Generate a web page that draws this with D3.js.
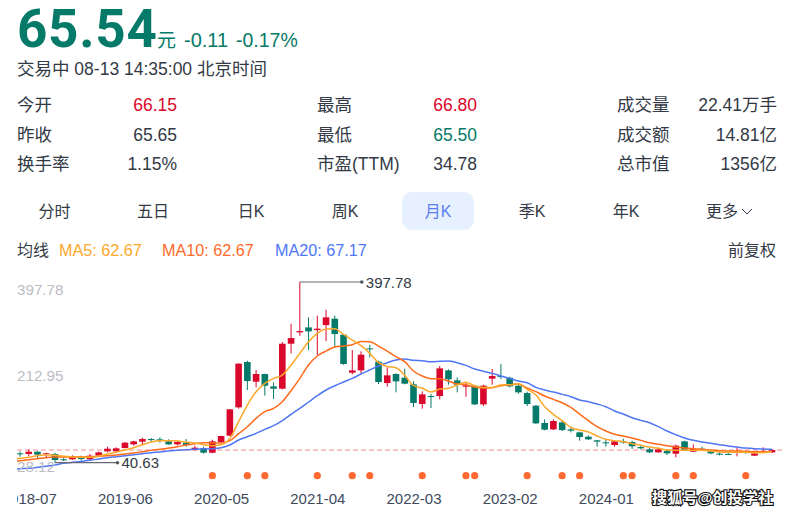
<!DOCTYPE html>
<html>
<head>
<meta charset="utf-8">
<script src="https://cdn.jsdelivr.net/npm/d3@7/dist/d3.min.js"></script>
<style>
  html, body { margin: 0; padding: 0; background: #fff; }
  svg { display: block; }
  text { font-family: "Liberation Sans", "Noto Sans CJK SC", sans-serif; }
</style>
</head>
<body>
<div id="chart"></div>
<script>
// monthly candles, the first month sits behind the left clip edge
const FIRST_MONTH = new Date(Date.UTC(2018, 4, 1));
const MONTH_COUNT = 88;
const TICK_LABELS = ['2018-07', '2019-06', '2020-05', '2021-04', '2022-03', '2023-02', '2024-01'];
const MARKER_MONTHS = ['2020-04', '2020-08', '2020-10', '2021-04', '2021-08', '2021-10', '2022-04', '2022-09', '2022-10',
  '2023-04', '2023-08', '2023-10', '2024-03', '2024-04', '2024-09', '2024-11', '2025-05'];

const opens = [57, 59.1, 57.8, 62.4, 57.1, 57.8, 47.3, 47.3, 52.5, 47.3, 54.5, 63.1, 63.1, 69.6, 76.9, 82.2, 87.4, 86.8, 82.8, 76.9, 80.2,
  67.7, 69.6, 60.4, 81.5, 94.0, 150.0, 239.6, 200.7, 215.9, 191.5, 186.9, 275.8, 298.2, 308.1, 302.8, 312.7, 325.2, 293.6, 218.5, 223.1,
  266.6, 240.3, 198.1, 215.9, 208.6, 195.5, 156.6, 172.4, 172.4, 223.1, 203.4, 190.9, 192.8, 155.9, 206.7, 211.9, 208.6, 192.8, 178.3,
  153.3, 119.1, 106.5, 120.4, 106.5, 100.6, 92.0, 84.8, 80.9, 75.6, 82.8, 81.5, 71.6, 67.0, 61.1, 63.7, 58.4, 82.8, 62.4, 68.3, 63.1,
  58.4, 57.8, 59.8, 61.8, 54.5, 61.8, 61.1];
const closes = [58, 57.1, 62.4, 56.5, 59.1, 45.9, 45.3, 53.8, 48.0, 54.5, 61.1, 68.3, 69.0, 80.2, 82.8, 87.4, 85.5, 84.1, 76.9, 81.5, 75.6,
  70.3, 60.4, 82.8, 93.4, 146.1, 236.3, 202.0, 215.9, 192.8, 186.9, 275.8, 287.0, 300.8, 300.2, 305.5, 327.9, 294.9, 235.6, 223.1, 254.1,
  264.6, 200.1, 213.3, 201.4, 196.8, 158.6, 175.7, 170.4, 227.1, 205.4, 194.8, 193.5, 155.9, 192.8, 211.9, 210.0, 191.5, 179.7, 156.6,
  118.4, 105.9, 123.0, 105.2, 103.9, 91.4, 86.8, 82.2, 78.9, 82.8, 81.5, 73.0, 69.0, 61.1, 67.0, 59.1, 74.3, 65.7, 67.7, 66.4, 59.1,
  56.5, 56.5, 62.4, 60.4, 59.1, 63.7, 65.5];
const highs = [60, 63.1, 67.0, 63.1, 60.4, 60.4, 50.6, 55.2, 54.5, 57.8, 62.4, 72.3, 71.0, 81.5, 84.1, 90.1, 89.4, 90.7, 86.8, 84.1, 87.4,
  74.3, 72.3, 86.1, 94.0, 146.7, 237.6, 242.2, 223.8, 216.5, 199.4, 279.1, 315.3, 397.78, 327.9, 331.2, 343.0, 331.2, 293.6, 263.3, 260.7,
  273.2, 242.2, 229.1, 217.2, 226.4, 201.4, 181.6, 176.4, 231.7, 225.1, 209.3, 199.4, 194.2, 194.8, 225.8, 235.6, 210.6, 197.4, 181.0,
  154.6, 126.3, 126.3, 125.0, 111.1, 101.9, 94.7, 85.5, 86.1, 85.5, 88.1, 84.1, 76.2, 70.3, 70.3, 67.7, 76.2, 84.1, 76.9, 72.3, 65.7,
  62.4, 63.1, 71.0, 63.7, 63.7, 71.0, 67.7];
const lows = [55, 52.5, 53.8, 48.0, 51.2, 40.63, 44.0, 46.6, 45.3, 45.9, 53.8, 61.1, 60.4, 69.0, 74.3, 74.9, 82.2, 80.2, 75.6, 74.9, 72.3,
  64.4, 58.4, 59.1, 80.2, 93.4, 147.4, 184.3, 189.5, 173.1, 166.5, 185.6, 256.7, 291.6, 263.3, 253.4, 281.1, 268.6, 234.3, 215.2, 217.2,
  248.8, 196.1, 190.9, 179.7, 195.5, 150.7, 147.4, 148.7, 165.8, 194.8, 179.7, 171.1, 154.6, 152.6, 194.8, 206.0, 189.5, 177.0, 152.6,
  117.1, 104.6, 105.2, 103.2, 100.6, 84.1, 85.5, 72.3, 72.3, 72.3, 78.2, 67.7, 67.0, 59.8, 60.4, 55.8, 51.2, 64.4, 61.8, 63.7, 57.1,
  55.2, 55.8, 53.2, 58.4, 53.8, 60.4, 59.8];

const ma5 = [47, 49.2, 51.2, 54.5, 56.5, 55.2, 53.2, 51.9, 51.2, 51.2, 53.8, 57.8, 61.8, 65.7, 70.3, 76.2, 81.5, 84.1, 84.1, 83.5, 81.5,
  79.5, 76.2, 74.3, 76.2, 88.7, 121.7, 154.6, 181.0, 197.4, 207.3, 213.9, 233.7, 256.7, 279.8, 296.2, 304.8, 305.5, 294.3, 283.1, 271.9,
  256.7, 238.3, 231.0, 228.4, 213.3, 192.8, 188.2, 180.3, 186.2, 187.6, 194.2, 199.4, 192.8, 189.5, 189.5, 194.2, 194.8, 196.1, 185.6,
  174.4, 151.3, 136.2, 123.7, 110.5, 105.2, 101.3, 93.4, 86.8, 84.1, 82.2, 78.2, 74.9, 71.6, 69.0, 65.7, 65.0, 65.7, 65.0, 65.0, 63.7,
  61.8, 61.1, 61.1, 61.1, 60.4, 60.4, 62.67];
const ma10 = [43, 44.6, 46.6, 48.6, 50.6, 51.9, 51.9, 51.9, 51.9, 51.9, 53.2, 54.5, 55.8, 57.8, 59.8, 62.4, 65.0, 67.0, 69.6, 72.3, 75.6,
  78.2, 80.2, 79.5, 79.5, 84.1, 98.0, 111.8, 128.3, 141.4, 148.0, 161.2, 182.9, 207.3, 233.7, 251.5, 261.3, 269.2, 271.2, 273.8, 280.4,
  279.8, 271.2, 261.3, 250.1, 240.3, 221.8, 211.9, 206.7, 206.7, 202.0, 196.1, 194.8, 190.2, 188.2, 188.9, 192.8, 194.8, 196.1, 188.2,
  181.0, 172.4, 165.8, 159.2, 150.0, 136.8, 123.7, 111.8, 103.2, 96.7, 93.4, 89.4, 84.8, 80.2, 76.9, 74.3, 71.6, 69.6, 68.3, 67.0, 65.7,
  64.4, 63.7, 63.7, 63.1, 62.4, 62.4, 62.67];
const ma20 = [27.5, 28.8, 29.5, 31.4, 33.4, 36.1, 39.4, 41.3, 43.3, 45.3, 47.9, 50.6, 52.5, 54.5, 56.5, 58.4, 60.4, 61.8, 63.7, 65.0, 66.4,
  67.0, 67.7, 68.3, 70.3, 75.6, 85.5, 92.0, 98.6, 106.5, 113.8, 123.7, 136.2, 148.0, 160.6, 173.1, 184.3, 192.8, 200.1, 207.3, 215.9,
  223.8, 231.7, 238.3, 243.6, 245.5, 242.9, 242.2, 240.3, 240.9, 241.6, 238.3, 233.0, 225.8, 221.2, 217.2, 211.9, 207.3, 202.0, 198.8,
  189.5, 184.3, 180.3, 175.7, 171.1, 164.5, 161.2, 156.6, 151.3, 142.8, 136.8, 129.6, 124.3, 119.7, 111.8, 103.2, 96.0, 89.4, 84.8, 81.5,
  78.9, 76.2, 73.6, 71.6, 69.6, 68.3, 67.7, 67.17];

const PREV_CLOSE = 65.65;
const Y_TICKS = ['397.78', '212.95', '28.12'];
const HIGH_POINT = {month: '2021-02', value: 397.78};
const LOW_POINT = {month: '2018-10', value: 40.63};

const statRows = [
  [['今开', '66.15', 'up'], ['最高', '66.80', 'up'], ['成交量', '22.41万手', '']],
  [['昨收', '65.65', ''], ['最低', '65.50', 'down'], ['成交额', '14.81亿', '']],
  [['换手率', '1.15%', ''], ['市盈(TTM)', '34.78', ''], ['总市值', '1356亿', '']]
];
const tabs = [['分时', 54.5], ['五日', 153], ['日K', 251], ['周K', 345], ['月K', 438], ['季K', 532], ['年K', 626], ['更多', 722]];
const maLegend = [['MA5: 62.67', 59, '#fca82b'], ['MA10: 62.67', 162, '#ff6a2b'], ['MA20: 67.17', 275, '#4f77f5']];

const RED = '#d9072b';
const GREEN = '#057a68';
const INK = '#333a45';

const months = d3.utcMonth.range(FIRST_MONTH, d3.utcMonth.offset(FIRST_MONTH, MONTH_COUNT)).map(d3.utcFormat('%Y-%m'));

const svg = d3.select('#chart').append('svg').attr('width', 800).attr('height', 514);

function label(x, y, str, opts) {
  const o = opts || {};
  return svg.append('text')
    .attr('x', x)
    .attr('y', y)
    .attr('dominant-baseline', 'central')
    .attr('text-anchor', o.anchor || 'start')
    .attr('font-size', o.size || 17.5)
    .attr('font-weight', o.weight || 'normal')
    .attr('fill', o.fill || INK)
    .text(str);
}

function renderHeader() {
  label(17, 29, '65.54', {size: 53, weight: 'bold', fill: GREEN})
    .style('font-family', 'Roboto, sans-serif')
    .attr('letter-spacing', 0.7);
  label(157, 40, '元', {size: 19, fill: GREEN});
  label(184, 40, '-0.11', {size: 20, fill: GREEN});
  label(236, 40, '-0.17%', {size: 19.5, fill: GREEN});
  label(17, 69, '交易中 08-13 14:35:00 北京时间');

  const colX = [[17, 177], [317, 477], [617, 777]];
  const colorOf = {up: RED, down: GREEN, '': INK};
  statRows.forEach((row, r) => {
    const y = 105 + r * 29.5;
    row.forEach(([name, value, dir], c) => {
      label(colX[c][0], y, name);
      label(colX[c][1], y, value, {anchor: 'end', fill: colorOf[dir]});
    });
  });

  svg.append('rect')
    .attr('x', 402).attr('y', 192)
    .attr('width', 72).attr('height', 38)
    .attr('rx', 10)
    .attr('fill', '#e6f0ff');
  tabs.forEach(([name, x]) => {
    label(x, 211, name, {size: 16, anchor: 'middle', fill: name === '月K' ? '#5b7ff0' : INK});
  });
  svg.append('path')
    .attr('d', d3.line()([[742, 209], [747, 214], [752, 209]]))
    .attr('fill', 'none')
    .attr('stroke', INK);

  label(17, 250, '均线', {size: 16});
  maLegend.forEach(([str, x, color]) => label(x, 250, str, {size: 16.2, fill: color}));
  label(776, 250, '前复权', {size: 16, anchor: 'end'});
}

function renderChart() {
  const x = d3.scalePoint().domain(months).range([11.26, 772]);
  const y = d3.scaleLinear().domain([40.63, 397.78]).range([462.7, 282]);
  const bodyWidth = 6.6;

  svg.append('clipPath').attr('id', 'plot-clip')
    .append('rect').attr('x', 17).attr('y', 270).attr('width', 765).attr('height', 244);

  const plot = svg.append('g').attr('clip-path', 'url(#plot-clip)');

  plot.append('line')
    .attr('x1', 17).attr('x2', 782)
    .attr('y1', y(PREV_CLOSE)).attr('y2', y(PREV_CLOSE))
    .attr('stroke', '#f58a90')
    .attr('stroke-dasharray', '5,3');

  const candles = plot.selectAll('g.candle')
    .data(months.map((month, i) => ({month, open: opens[i], close: closes[i], high: highs[i], low: lows[i]})))
    .enter().append('g')
    .attr('class', 'candle')
    .attr('fill', (d) => (d.close >= d.open ? RED : GREEN))
    .attr('stroke', (d) => (d.close >= d.open ? RED : GREEN));

  candles.append('line')
    .attr('x1', (d) => x(d.month)).attr('x2', (d) => x(d.month))
    .attr('y1', (d) => y(d.high)).attr('y2', (d) => y(d.low))
    .attr('stroke-width', 1);

  candles.append('rect')
    .attr('x', (d) => x(d.month) - bodyWidth / 2)
    .attr('y', (d) => y(Math.max(d.open, d.close)))
    .attr('width', bodyWidth)
    .attr('height', (d) => Math.max(1, Math.abs(y(d.open) - y(d.close))))
    .attr('stroke', 'none');

  const lineFn = d3.line()
    .curve(d3.curveMonotoneX)
    .x((d, i) => x(months[i]))
    .y((d) => y(d));

  [[ma20, '#4f77f5'], [ma10, '#ff6a1a'], [ma5, '#fca82b']].forEach(([values, color]) => {
    plot.append('path')
      .attr('d', lineFn(values))
      .attr('fill', 'none')
      .attr('stroke', color)
      .attr('stroke-width', 1.5);
  });

  // y labels sit inside the plot, no axis line
  Y_TICKS.forEach((tick) => {
    const yPos = tick === '397.78' ? y(+tick) + 7 : (tick === '28.12' ? y(+tick) - 3 : y(+tick));
    label(17, yPos, tick, {size: 15.2, fill: '#bcbcc4'});
  });

  // extreme value annotations
  [[HIGH_POINT, 62], [LOW_POINT, 62.5]].forEach(([point, length]) => {
    const px = x(point.month);
    const py = y(point.value);
    svg.append('line')
      .attr('x1', px).attr('x2', px + length)
      .attr('y1', py).attr('y2', py)
      .attr('stroke', '#666a70')
      .attr('stroke-width', 1.2);
    svg.append('circle')
      .attr('cx', px + length).attr('cy', py)
      .attr('r', 1.8)
      .attr('fill', '#555a60');
    label(px + length + 4, py, point.value.toFixed(2), {size: 15});
  });

  plot.selectAll('circle.marker')
    .data(MARKER_MONTHS)
    .enter().append('circle')
    .attr('class', 'marker')
    .attr('cx', (d) => x(d))
    .attr('cy', 475.7)
    .attr('r', 3.6)
    .attr('fill', '#ff6a33');

  const axis = d3.axisBottom(x).tickValues(TICK_LABELS).tickSize(0).tickPadding(0);
  const axisGroup = plot.append('g').attr('transform', 'translate(0,493)').call(axis);
  axisGroup.select('.domain').remove();
  axisGroup.selectAll('text')
    .attr('font-size', 15)
    .attr('fill', '#3e4a5c')
    .attr('dy', '0.71em');
}

function renderWatermark() {
  label(652, 497, '搜狐号@创投学社', {size: 15.2, weight: 'bold', fill: '#fff'})
    .attr('stroke', '#111')
    .attr('stroke-width', 2.2)
    .attr('paint-order', 'stroke');
}

renderHeader();
renderChart();
renderWatermark();
</script>
</body>
</html>
